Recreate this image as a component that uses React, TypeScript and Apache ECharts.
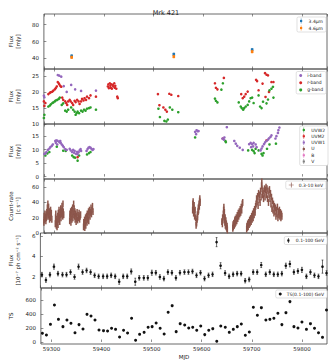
import React, { useEffect, useRef } from 'react';
import * as echarts from 'echarts';

// ---------- data ----------
const wise34: number[][] = [[59335, 42.7, 1.5], [59541, 44.8, 1.5], [59699, 50.2, 1.5]];
const wise46: number[][] = [[59335, 41.2, 1.4], [59541, 42.0, 1.4], [59699, 47.9, 1.4]];

const ztfI: number[][] = [[59279, 18.9], [59280, 18.4], [59307, 25.4], [59310, 25.2], [59314, 24.9], [59319, 21.9], [59325, 20.1], [59334, 22.3], [59342, 20.9], [59354, 20.4], [59384, 20.5]];
const ztfR: number[][] = [
  [59278, 16.2], [59279, 17.1], [59280, 15.7], [59282, 16.6],
  [59288, 19.4], [59291, 19.8], [59293, 20.0], [59296, 20.2], [59298, 20.5], [59301, 20.9], [59303, 21.3], [59305, 21.8], [59307, 23.2], [59309, 22.8], [59310, 22.5], [59312, 22.0], [59314, 21.7],
  [59316, 18.3], [59318, 17.6], [59322, 17.1], [59324, 16.6], [59326, 16.0], [59328, 17.1], [59331, 17.6], [59333, 17.1], [59336, 16.6], [59338, 16.0], [59341, 17.3], [59343, 16.9], [59346, 17.6], [59349, 17.1], [59351, 16.3], [59354, 17.1], [59356, 17.9], [59359, 17.4], [59361, 18.1], [59364, 17.6], [59366, 18.6], [59370, 18.1], [59373, 19.0], [59384, 18.6],
  [59408, 21.8], [59409, 22.5], [59410, 21.3], [59412, 22.8], [59413, 22.0], [59414, 21.4], [59415, 22.5], [59416, 21.1], [59418, 22.3], [59419, 21.8], [59421, 22.8], [59422, 21.4], [59423, 22.0], [59425, 21.1], [59427, 18.6], [59428, 18.1],
  [59509, 19.4], [59512, 15.9], [59520, 15.2], [59524, 14.5], [59527, 13.9], [59532, 19.5], [59536, 19.2], [59550, 18.8],
  [59624, 22.8], [59626, 21.4], [59629, 20.9], [59642, 24.5],
  [59677, 19.4], [59680, 18.1], [59683, 18.6], [59686, 19.4], [59690, 20.2],
  [59707, 23.9], [59709, 23.5], [59712, 20.6], [59720, 22.7], [59725, 26.0], [59728, 25.5], [59731, 25.3], [59726, 18.5], [59733, 20.1], [59738, 23.2], [59742, 23.2]
];
const ztfG: number[][] = [
  [59278, 12.3], [59279, 11.9], [59280, 12.9],
  [59288, 15.5], [59291, 15.8], [59293, 16.2], [59296, 16.6], [59298, 16.8], [59301, 17.1], [59303, 17.4], [59306, 17.6], [59309, 17.9], [59311, 18.3],
  [59315, 16.0], [59318, 16.5], [59322, 14.2], [59325, 13.9], [59328, 14.5],
  [59334, 15.2], [59338, 14.5], [59341, 13.9], [59343, 12.9], [59345, 13.4], [59347, 13.9], [59350, 13.4], [59354, 14.2], [59357, 13.9], [59360, 14.5], [59363, 14.2], [59366, 14.8], [59370, 15.0], [59373, 15.2], [59384, 14.5],
  [59510, 14.8], [59513, 12.2], [59522, 11.0], [59526, 10.8], [59529, 11.4], [59533, 15.2], [59538, 14.5], [59550, 13.7],
  [59624, 18.0], [59626, 17.3], [59629, 16.8], [59637, 20.8], [59640, 22.8],
  [59672, 16.8], [59676, 15.5], [59678, 15.0], [59681, 14.5], [59683, 15.0], [59686, 15.5], [59690, 16.0], [59693, 17.1], [59696, 18.1], [59699, 18.3], [59702, 16.6],
  [59712, 19.0], [59715, 15.5], [59718, 15.0], [59721, 17.0], [59728, 16.5], [59731, 17.7], [59734, 20.6], [59738, 21.1], [59741, 21.7], [59742, 18.3]
];

const uvw2: number[][] = [[59282, 7.8], [59286, 8.6], [59290, 9.1], [59305, 11.1], [59318, 9.6], [59323, 9.5], [59336, 7.8], [59339, 7.2], [59342, 7.0], [59347, 5.9], [59350, 7.8], [59366, 8.2], [59370, 8.7], [59373, 9.1], [59584, 14.5], [59645, 13.2], [59646, 12.8], [59691, 9.7], [59699, 9.9], [59702, 9.4], [59704, 8.7], [59706, 10.3], [59712, 9.7], [59718, 8.4], [59720, 7.8], [59722, 8.7], [59729, 10.3], [59734, 11.9], [59747, 12.2]];
const uvm2: number[][] = [[59347, 7.2], [59640, 14.1], [59728, 13.4]];
const uvw1: number[][] = [
  [59280, 8.4], [59282, 8.6], [59284, 9.1], [59287, 9.9], [59290, 10.4], [59292, 10.9], [59295, 11.4], [59297, 11.9], [59302, 13.2], [59303, 12.5], [59304, 13.4], [59306, 13.3], [59306, 11.9], [59309, 13.0], [59311, 12.7], [59312, 13.2], [59313, 12.5], [59315, 11.9], [59317, 11.5], [59319, 10.9], [59322, 10.2], [59325, 9.9],
  [59331, 10.3], [59333, 9.7], [59336, 9.1], [59338, 9.9], [59340, 8.8], [59341, 9.5], [59344, 8.4], [59346, 9.2], [59347, 8.3], [59349, 9.0], [59351, 9.7], [59353, 10.2], [59354, 9.5],
  [59365, 9.5], [59367, 10.2], [59369, 10.7], [59371, 10.9], [59373, 10.7], [59375, 10.3], [59377, 9.9], [59379, 10.2],
  [59584, 16.6], [59586, 15.7], [59587, 17.2], [59589, 16.8], [59591, 16.9],
  [59639, 14.1], [59642, 13.7], [59643, 14.5], [59648, 18.3], [59663, 13.2], [59666, 12.2], [59669, 11.4], [59674, 10.7], [59680, 9.9],
  [59693, 12.0], [59696, 12.5], [59697, 10.9], [59699, 12.0], [59701, 11.2], [59702, 12.5], [59706, 11.9], [59708, 10.9],
  [59716, 9.7], [59718, 10.4], [59720, 11.2], [59723, 12.0], [59725, 12.7], [59728, 13.2], [59731, 13.7], [59733, 14.2], [59736, 14.7], [59738, 15.3], [59746, 14.1], [59748, 15.0], [59751, 16.2], [59752, 17.2], [59754, 18.2]
];
const uvU: number[][] = [];
const uvB: number[][] = [];
const uvV: number[][] = [];

const XRAY_ERR = 4.5;
const xray: number[][] = [
  [59279, 14], [59279.5, 22], [59280, 17], [59281, 25], [59281.5, 19], [59282, 21], [59283, 16], [59283.5, 24], [59284, 20], [59285, 27], [59285.5, 22], [59286, 33], [59286.5, 28], [59287, 38], [59287.5, 30], [59288, 24], [59288.5, 34], [59289, 22], [59290, 28], [59290.5, 18], [59291, 25], [59292, 20], [59292.5, 30], [59293, 22], [59294, 26], [59295, 18],
  [59302, 12], [59302.5, 20], [59303, 25], [59303.5, 15], [59304, 10], [59305, 18], [59305.5, 8], [59306, 14], [59307, 22], [59307.5, 11], [59308, 26], [59309, 18], [59309.5, 30], [59310, 21], [59311, 15], [59311.5, 27], [59312, 24], [59313, 32], [59313.5, 20], [59314, 28], [59315, 25], [59315.5, 35], [59316, 30], [59317, 22], [59317.5, 38], [59318, 28], [59319, 24],
  [59331, 16], [59331.5, 25], [59332, 20], [59333, 28], [59333.5, 14], [59334, 22], [59335, 30], [59335.5, 18], [59336, 25], [59337, 33], [59337.5, 20], [59338, 28], [59339, 38], [59339.5, 24], [59340, 32], [59341, 22], [59341.5, 28], [59342, 18], [59343, 25], [59344, 15], [59344.5, 22], [59345, 19], [59346, 27], [59347, 17], [59348, 23], [59349, 20], [59350, 26], [59351, 18], [59352, 22], [59353, 24],
  [59359, 8], [59359.5, 14], [59360, 11], [59361, 17], [59361.5, 7], [59362, 13], [59363, 20], [59363.5, 10], [59364, 16], [59365, 22], [59366, 14], [59366.5, 25], [59367, 18], [59368, 21], [59369, 28], [59369.5, 16], [59370, 24], [59371, 30], [59372, 22], [59373, 27], [59374, 33], [59375, 25], [59376, 30], [59377, 35], [59378, 28],
  [59579, 30], [59579.5, 38], [59580, 41], [59580.5, 33], [59581, 26], [59582, 36], [59582.5, 28], [59583, 22], [59584, 30], [59585, 20], [59586, 10], [59586.5, 15], [59587, 13], [59588, 18], [59588.5, 24], [59589, 21], [59590, 28], [59590.5, 33], [59591, 30], [59592, 38], [59592.5, 35], [59593, 42], [59593.5, 45], [59594, 40],
  [59638, 15], [59639, 12], [59639.5, 20], [59640, 17], [59641, 25], [59641.5, 30], [59642, 34], [59642.5, 22], [59643, 27], [59643.5, 18], [59644, 14], [59644.5, 20], [59645, 10], [59646, 16], [59646.5, 8], [59647, 12], [59648, 6], [59648.5, 9], [59649, 4],
  [59660, 6], [59660.5, 11], [59661, 8], [59662, 13], [59663, 10], [59664, 16], [59664.5, 12], [59665, 18], [59666, 14], [59667, 20], [59668, 16], [59669, 23], [59670, 19], [59671, 26], [59672, 22], [59673, 28], [59674, 25], [59675, 31], [59676, 27], [59677, 34], [59678, 30], [59679, 38], [59680, 40],
  [59688, 5], [59688.5, 9], [59689, 7], [59690, 12], [59691, 8], [59692, 14], [59693, 11], [59694, 17], [59695, 13], [59696, 19], [59697, 15], [59698, 22], [59699, 18], [59700, 25], [59701, 20], [59702, 28], [59703, 24], [59704, 31], [59705, 27], [59706, 35],
  [59707, 38], [59708, 45], [59709, 41], [59710, 48], [59711, 36], [59712, 52], [59713, 44], [59714, 50], [59715, 40], [59716, 55], [59717, 47], [59718, 62], [59718.5, 67], [59719, 58], [59720, 50], [59721, 55], [59722, 45], [59723, 52], [59724, 58], [59725, 47], [59726, 56], [59727, 60], [59728, 50], [59729, 58], [59730, 45], [59731, 55], [59732, 40], [59733, 50], [59734, 57], [59735, 45], [59736, 52], [59737, 38], [59738, 47], [59739, 32], [59740, 42], [59741, 30], [59742, 38], [59743, 26], [59744, 35], [59745, 28], [59746, 33], [59747, 22], [59748, 30], [59749, 25], [59750, 34], [59751, 20], [59752, 28], [59753, 24], [59754, 30], [59755, 22], [59756, 27], [59757, 20], [59758, 25], [59759, 22]
];

const fermiMjd = [
  59282, 59290, 59298, 59306, 59314, 59323, 59331, 59339, 59347, 59355,
  59363, 59371, 59379, 59387, 59395, 59404, 59412, 59420, 59428, 59436,
  59444, 59452, 59460, 59468, 59476, 59485, 59493, 59501, 59509, 59517,
  59525, 59533, 59541, 59549, 59557, 59566, 59574, 59582, 59590, 59598,
  59606, 59614, 59622, 59630, 59638, 59647, 59655, 59663, 59671, 59679,
  59687, 59695, 59703, 59711, 59719, 59728, 59736, 59744, 59752, 59760,
  59768, 59776, 59784, 59792, 59800, 59809, 59817, 59825, 59833, 59841, 59849
];
const fermiFlux = [
  2.19, 1.65, 2.19, 2.98, 2.29, 2.19, 2.19, 2.44, 1.96, 2.98,
  2.44, 2.6, 2.44, 2.12, 2.02, 2.02, 2.02, 2.12, 2.02, 1.49,
  2.02, 2.02, 2.5, 1.49, 1.87, 1.87, 1.87, 2.38, 2.38, 1.96,
  1.8, 2.44, 2.38, 1.87, 2.38, 2.44, 2.44, 2.5, 2.12, 2.38,
  1.8, 2.12, 2.22, 5.4, 3.07, 2.35, 2.02, 2.22, 2.29, 2.29,
  1.59, 1.71, 2.44, 2.44, 3.14, 2.22, 2.44, 2.22, 2.22, 2.29,
  3.07, 3.24, 2.44, 2.54, 2.66, 2.02, 2.44, 2.12, 2.02, 2.98, 2.35
];
const fermiErr = [
  0.22, 0.22, 0.22, 0.25, 0.22, 0.22, 0.22, 0.22, 0.22, 0.25,
  0.22, 0.22, 0.22, 0.22, 0.22, 0.22, 0.22, 0.22, 0.22, 0.25,
  0.22, 0.22, 0.25, 0.35, 0.22, 0.22, 0.22, 0.25, 0.22, 0.22,
  0.22, 0.22, 0.22, 0.22, 0.22, 0.22, 0.22, 0.22, 0.22, 0.22,
  0.22, 0.22, 0.22, 0.45, 0.3, 0.22, 0.22, 0.22, 0.22, 0.22,
  0.22, 0.22, 0.22, 0.22, 0.25, 0.22, 0.22, 0.22, 0.22, 0.22,
  0.25, 0.28, 0.22, 0.22, 0.25, 0.22, 0.22, 0.22, 0.22, 0.65, 0.22
];
const fermiTS = [
  125, 101, 254, 533, 326, 221, 317, 269, 134, 250,
  187, 398, 374, 317, 173, 163, 158, 197, 182, 72,
  168, 130, 341, 24, 110, 139, 211, 221, 274, 197,
  115, 427, 523, 149, 264, 245, 202, 211, 168, 230,
  106, 168, 192, 10, 230, 211, 139, 182, 221, 259,
  96, 144, 499, 384, 494, 317, 326, 341, 413, 250,
  422, 581, 221, 202, 288, 182, 264, 197, 134, 67, 461
];

// ---------- layout ----------
const FONT = 'DejaVu Sans';
const X_MIN = 59279;
const X_MAX = 59850;
const panels = [
  { top: 14, h: 55, min: 27.3, max: 92.7, split: 3, name: 'Flux\n[mJy]', showMin: false },
  { top: 69, h: 55, min: 10, max: 27.3, split: 3, name: 'Flux\n[mJy]', showMin: true },
  { top: 124, h: 55, min: -0.9, max: 19.5, split: 4, name: 'Flux\n[mJy]', showMin: false },
  { top: 179, h: 54, min: 0, max: 70.8, split: 4, name: 'Count-rate\n[c s\u207b\u00b9]', showMin: true },
  { top: 233, h: 55, min: 0.87, max: 6.3, split: 3, name: 'Flux\n[10\u207b\u2077 ph cm\u207b\u00b2 s\u207b\u00b9]', showMin: false },
  { top: 288, h: 56, min: -29, max: 777, split: 4, name: 'TS', showMin: false },
];

const ICON_ERR = 'path://M4.4,0h1.2v3h1.6v4h-1.6v3h-1.2v-3h-1.6v-4h1.6z';
const ICON_PLUS = 'path://M4.3,0h1.4v4.3h4.3v1.4h-4.3v4.3h-1.4v-4.3h-4.3v-1.4h4.3z';

function errRender(color: string, marker: 'square' | 'circle' | 'none', cap: number, lw: number, xerr: number) {
  return (params: any, api: any) => {
    const x = api.value(0);
    const y = api.value(1);
    const e = api.value(2);
    const c = api.coord([x, y]);
    const lo = api.coord([x, y - e]);
    const hi = api.coord([x, y + e]);
    const st = { stroke: color, lineWidth: lw };
    const children: any[] = [
      { type: 'line', shape: { x1: c[0], y1: lo[1], x2: c[0], y2: hi[1] }, style: st },
    ];
    if (cap > 0) {
      children.push({ type: 'line', shape: { x1: c[0] - cap, y1: lo[1], x2: c[0] + cap, y2: lo[1] }, style: st });
      children.push({ type: 'line', shape: { x1: c[0] - cap, y1: hi[1], x2: c[0] + cap, y2: hi[1] }, style: st });
    }
    if (xerr > 0) {
      const l = api.coord([x - xerr, y]);
      const r = api.coord([x + xerr, y]);
      children.push({ type: 'line', shape: { x1: l[0], y1: c[1], x2: r[0], y2: c[1] }, style: { stroke: color, lineWidth: 0.8 } });
    }
    if (marker === 'square') {
      children.push({ type: 'rect', shape: { x: c[0] - 1.3, y: c[1] - 1.3, width: 2.6, height: 2.6 }, style: { fill: color } });
    } else if (marker === 'circle') {
      children.push({ type: 'circle', shape: { cx: c[0], cy: c[1], r: 1.3 }, style: { fill: color } });
    }
    return { type: 'group', children };
  };
}

function buildOption() {
  const grid = panels.map((p) => ({ left: 29, right: 5, top: p.top, height: p.h, show: true, borderColor: '#444', borderWidth: 0.8, backgroundColor: 'transparent' }));
  const xAxis: any[] = [];
  panels.forEach((p, i) => {
    const last = i === panels.length - 1;
    xAxis.push({
      type: 'value', gridIndex: i, min: X_MIN, max: X_MAX, splitNumber: 6, position: 'bottom',
      axisLine: { show: false }, splitLine: { show: false },
      axisTick: { show: true, inside: true, length: 2.5, lineStyle: { color: '#444', width: 0.6 } },
      axisLabel: { show: last, fontSize: 5.5, color: '#222', fontFamily: FONT, margin: 1.5, showMinLabel: false, showMaxLabel: false, formatter: (v: number) => String(Math.round(v)) },
      name: last ? 'MJD' : '', nameLocation: 'middle', nameGap: 10,
      nameTextStyle: { fontSize: 5.5, color: '#222', fontFamily: FONT },
    });
  });
  panels.forEach((p, i) => {
    xAxis.push({
      type: 'value', gridIndex: i, min: X_MIN, max: X_MAX, splitNumber: 6, position: 'top',
      axisLine: { show: false }, splitLine: { show: false },
      axisTick: { show: true, inside: true, length: 2.5, lineStyle: { color: '#444', width: 0.6 } },
      axisLabel: { show: false },
    });
  });
  const yAxis = panels.map((p, i) => ({
    type: 'value', gridIndex: i, min: p.min, max: p.max, splitNumber: p.split,
    axisLine: { show: false }, splitLine: { show: false },
    axisTick: { show: true, inside: true, length: 2.5, lineStyle: { color: '#444', width: 0.6 } },
    axisLabel: { fontSize: 5.5, color: '#222', fontFamily: FONT, margin: 5, showMinLabel: p.showMin, showMaxLabel: false },
    name: p.name, nameLocation: 'middle', nameGap: 10, nameRotate: 90,
    nameTextStyle: { fontSize: 5.5, color: '#222', fontFamily: FONT, lineHeight: 6.5 },
  }));

  const fermiData = fermiMjd.map((m, i) => [m, fermiFlux[i], fermiErr[i]]);
  const tsData = fermiMjd.map((m, i) => [m, fermiTS[i]]);
  const xrayData = xray.map((d) => [d[0], d[1], XRAY_ERR]);

  const scatter = (name: string, gi: number, data: number[][], color: string, size: number) => ({
    type: 'scatter', name, xAxisIndex: gi, yAxisIndex: gi, data, symbol: 'circle', symbolSize: size,
    itemStyle: { color, opacity: 1 }, silent: true,
  });
  const custom = (name: string, gi: number, data: number[][], color: string, render: any) => ({
    type: 'custom', name, xAxisIndex: gi, yAxisIndex: gi, data, renderItem: render,
    encode: { x: 0, y: 1 }, itemStyle: { color }, silent: true,
  });

  const series: any[] = [
    custom('3.4\u03bcm', 0, wise34, '#1f77b4', errRender('#1f77b4', 'square', 1, 0.7, 0)),
    custom('4.6\u03bcm', 0, wise46, '#ff7f0e', errRender('#ff7f0e', 'square', 1, 0.7, 0)),
    scatter('i-band', 1, ztfI, '#9467bd', 2.6),
    scatter('r-band', 1, ztfR, '#d62728', 2.6),
    scatter('g-band', 1, ztfG, '#2ca02c', 2.6),
    scatter('UVW2', 2, uvw2, '#2ca02c', 2.6),
    scatter('UVM2', 2, uvm2, '#d62728', 2.6),
    scatter('UVW1', 2, uvw1, '#9467bd', 2.6),
    scatter('U', 2, uvU, '#8c564b', 2.6),
    scatter('B', 2, uvB, '#e377c2', 2.6),
    scatter('V', 2, uvV, '#7f7f7f', 2.6),
    custom('0.3-10 keV', 3, xrayData, '#8c564b', errRender('#8c564b', 'none', 0, 1.5, 0.7)),
    custom('0.1-100 GeV', 4, fermiData, '#111', errRender('#111', 'circle', 0.9, 0.6, 0)),
    scatter('TS(0.1-100) GeV', 5, tsData, '#111', 3),
  ];

  const legendBase = {
    orient: 'vertical', itemWidth: 5, itemHeight: 5, itemGap: 1.2,
    textStyle: { fontSize: 4.5, color: '#222', fontFamily: FONT },
    padding: [1.5, 3, 1.5, 3], borderColor: '#ccc', borderWidth: 0.6, borderRadius: 1.5,
    backgroundColor: '#fff', selectedMode: false,
  };
  const legend = [
    { ...legendBase, right: 6, top: 17, itemGap: 2, data: [{ name: '3.4\u03bcm', icon: ICON_ERR }, { name: '4.6\u03bcm', icon: ICON_ERR }] },
    { ...legendBase, right: 6, top: 71.5, itemWidth: 3, itemHeight: 3, itemGap: 2.2, data: [{ name: 'i-band', icon: 'circle' }, { name: 'r-band', icon: 'circle' }, { name: 'g-band', icon: 'circle' }] },
    { ...legendBase, right: 4, top: 126, itemGap: 1.3, data: ['UVW2', 'UVM2', 'UVW1', 'U', 'B', 'V'].map((n) => ({ name: n, icon: ICON_ERR })) },
    { ...legendBase, right: 6, top: 181, data: [{ name: '0.3-10 keV', icon: ICON_PLUS }] },
    { ...legendBase, right: 5, top: 236.5, data: [{ name: '0.1-100 GeV', icon: ICON_ERR }] },
    { ...legendBase, right: 5, top: 290, itemWidth: 3, itemHeight: 3, data: [{ name: 'TS(0.1-100) GeV', icon: 'circle' }] },
  ];

  return {
    animation: false,
    backgroundColor: '#fff',
    title: { text: 'Mrk 421', left: 'center', top: 4, textStyle: { fontSize: 6.5, fontWeight: 'normal', color: '#222', fontFamily: FONT } },
    grid, xAxis, yAxis, legend, series,
  };
}

export default function App() {
  const ref = useRef<HTMLDivElement>(null);
  useEffect(() => {
    document.body.style.margin = '0';
    const chart = echarts.init(ref.current as HTMLDivElement, null, { renderer: 'svg' });
    chart.setOption(buildOption() as any);
    return () => chart.dispose();
  }, []);
  return <div ref={ref} style={{ width: 332, height: 362 }} />;
}
